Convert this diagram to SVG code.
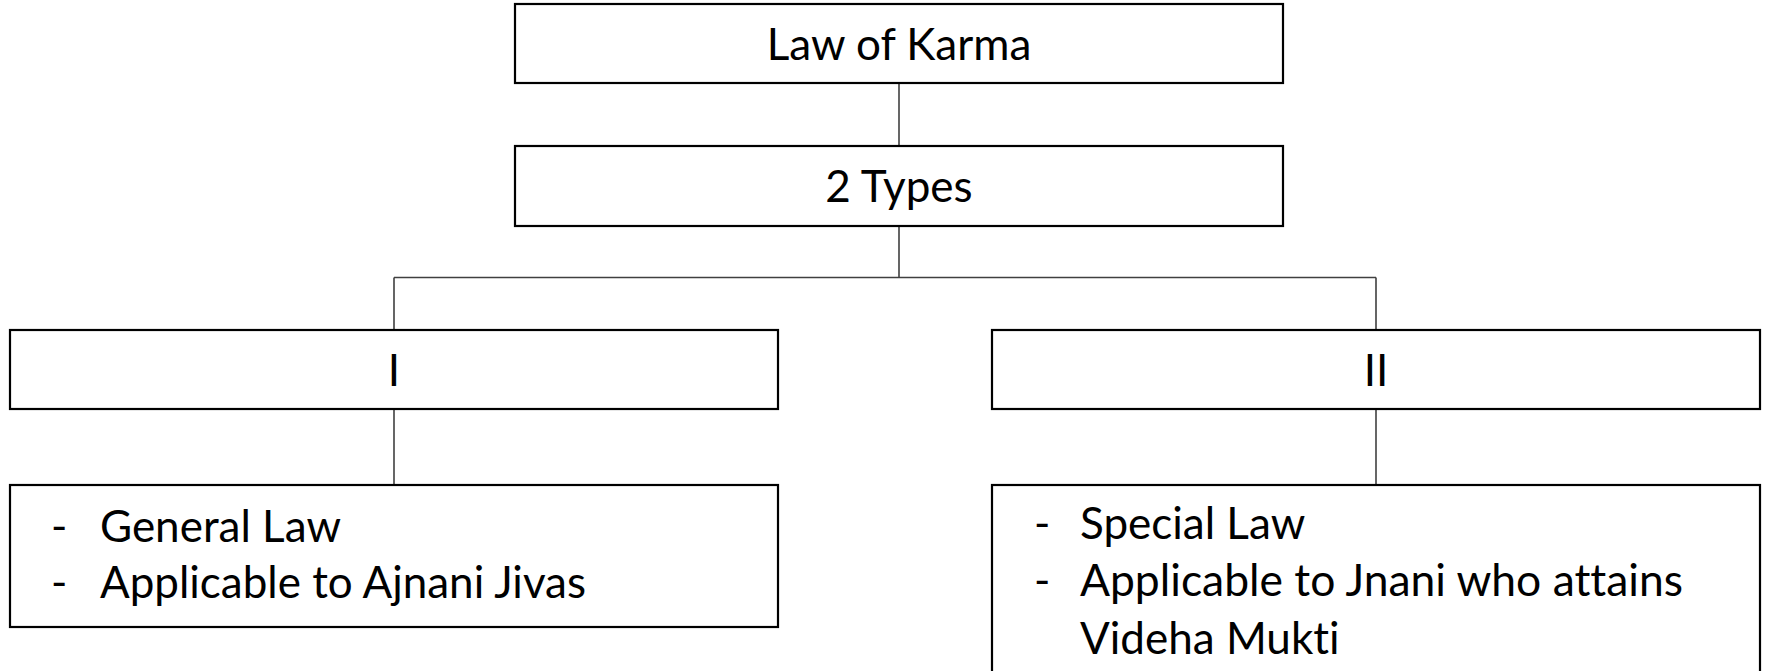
<svg xmlns="http://www.w3.org/2000/svg" width="1769" height="671" viewBox="0 0 1769 671">
<style>
.box{fill:#ffffff;stroke:#000000;stroke-width:2.2}
.con{fill:none;stroke:#404040;stroke-width:1.6}
text{font-family:"Lato","Liberation Sans",sans-serif;font-size:44px;fill:#000000;font-variant-ligatures:none;font-feature-settings:"liga" 0,"dlig" 0}
.c{text-anchor:middle}
</style>
<rect width="1769" height="671" fill="#ffffff"/>
<g id="connectors">
<path class="con" d="M899 83 V146"/>
<path class="con" d="M899 226 V277.5 M394 277.5 H1376 M394 277.5 V330 M1376 277.5 V330"/>
<path class="con" d="M394 409 V485"/>
<path class="con" d="M1376 409 V485"/>
</g>
<g id="law">
<rect class="box" x="515" y="4" width="768" height="79"/>
<text class="c" x="899" y="60">Law of Karma</text>
</g>
<g id="types">
<rect class="box" x="515" y="146" width="768" height="80"/>
<text class="c" x="899" y="202">2 Types</text>
</g>
<g id="type1">
<rect class="box" x="10" y="330" width="768" height="79"/>
<text class="c" x="394" y="386">I</text>
</g>
<g id="type2">
<rect class="box" x="992" y="330" width="768" height="79"/>
<text class="c" x="1376" y="386">II</text>
</g>
<g id="general">
<rect class="box" x="10" y="485" width="768" height="142"/>
<text x="51" y="542">-</text>
<text x="100" y="542">General Law</text>
<text x="51" y="598">-</text>
<text x="100" y="598" textLength="486" lengthAdjust="spacingAndGlyphs">Applicable to Ajnani Jivas</text>
</g>
<g id="special">
<rect class="box" x="992" y="485" width="768" height="200"/>
<text x="1034" y="539">-</text>
<text x="1080" y="539">Special Law</text>
<text x="1034" y="596">-</text>
<text x="1080" y="596" textLength="603" lengthAdjust="spacingAndGlyphs">Applicable to Jnani who attains</text>
<text x="1080" y="654">Videha Mukti</text>
</g>
</svg>
